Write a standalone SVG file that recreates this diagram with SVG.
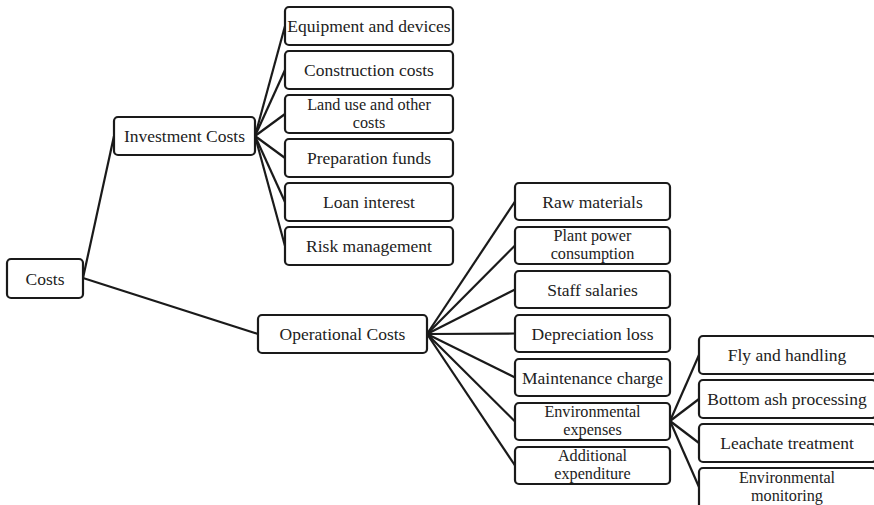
<svg xmlns="http://www.w3.org/2000/svg" width="874" height="505" viewBox="0 0 874 505">
<style>
.box{fill:#fff;stroke:#1a1a1a;stroke-width:2.2}
.lbl{font-family:'Liberation Serif','DejaVu Serif',serif;font-size:17.5px;fill:#222;text-anchor:middle}
.two{font-size:16.2px}
.ln{stroke:#1a1a1a;stroke-width:2.2;fill:none}
</style>
<rect width="874" height="505" fill="#fff"/>
<g id="connectors" class="ln">
<line x1="83" y1="278" x2="114" y2="136"/>
<line x1="83" y1="278" x2="258" y2="334"/>
<line x1="255" y1="136" x2="285" y2="26"/>
<line x1="255" y1="136" x2="285" y2="70"/>
<line x1="255" y1="136" x2="285" y2="114"/>
<line x1="255" y1="136" x2="285" y2="158"/>
<line x1="255" y1="136" x2="285" y2="202"/>
<line x1="255" y1="136" x2="285" y2="246"/>
<line x1="427" y1="334" x2="515" y2="201.5"/>
<line x1="427" y1="334" x2="515" y2="245.5"/>
<line x1="427" y1="334" x2="515" y2="289.5"/>
<line x1="427" y1="334" x2="515" y2="333.5"/>
<line x1="427" y1="334" x2="515" y2="377.5"/>
<line x1="427" y1="334" x2="515" y2="421.5"/>
<line x1="427" y1="334" x2="515" y2="465.5"/>
<line x1="670" y1="421" x2="699" y2="355"/>
<line x1="670" y1="421" x2="699" y2="399"/>
<line x1="670" y1="421" x2="699" y2="443"/>
<line x1="670" y1="421" x2="699" y2="487"/>
</g>
<g id="costs"><rect class="box" x="7" y="259" width="76" height="39" rx="4"/><text class="lbl" x="45" y="284.5">Costs</text></g>
<g id="investment"><rect class="box" x="114" y="117" width="141" height="38" rx="4"/><text class="lbl" x="184.5" y="142">Investment Costs</text></g>
<g id="equipment"><rect class="box" x="285" y="7" width="168" height="38" rx="4"/><text class="lbl" x="369" y="32">Equipment and devices</text></g>
<g id="construction"><rect class="box" x="285" y="51" width="168" height="38" rx="4"/><text class="lbl" x="369" y="76">Construction costs</text></g>
<g id="landuse"><rect class="box" x="285" y="95" width="168" height="38" rx="4"/><text class="lbl two" x="369" y="110"><tspan x="369" y="110">Land use and other</tspan><tspan x="369" y="128">costs</tspan></text></g>
<g id="preparation"><rect class="box" x="285" y="139" width="168" height="38" rx="4"/><text class="lbl" x="369" y="164">Preparation funds</text></g>
<g id="loan"><rect class="box" x="285" y="183" width="168" height="38" rx="4"/><text class="lbl" x="369" y="208">Loan interest</text></g>
<g id="risk"><rect class="box" x="285" y="227" width="168" height="38" rx="4"/><text class="lbl" x="369" y="252">Risk management</text></g>
<g id="operational"><rect class="box" x="258" y="315" width="169" height="38" rx="4"/><text class="lbl" x="342.5" y="340">Operational Costs</text></g>
<g id="raw"><rect class="box" x="515" y="183" width="155" height="37" rx="4"/><text class="lbl" x="592.5" y="207.5">Raw materials</text></g>
<g id="power"><rect class="box" x="515" y="227" width="155" height="37" rx="4"/><text class="lbl two" x="592.5" y="241"><tspan x="592.5" y="241">Plant power</tspan><tspan x="592.5" y="259">consumption</tspan></text></g>
<g id="staff"><rect class="box" x="515" y="271" width="155" height="37" rx="4"/><text class="lbl" x="592.5" y="295.5">Staff salaries</text></g>
<g id="depreciation"><rect class="box" x="515" y="315" width="155" height="37" rx="4"/><text class="lbl" x="592.5" y="339.5">Depreciation loss</text></g>
<g id="maintenance"><rect class="box" x="515" y="359" width="155" height="37" rx="4"/><text class="lbl" x="592.5" y="383.5">Maintenance charge</text></g>
<g id="environmental"><rect class="box" x="515" y="403" width="155" height="37" rx="4"/><text class="lbl two" x="592.5" y="417"><tspan x="592.5" y="417">Environmental</tspan><tspan x="592.5" y="435">expenses</tspan></text></g>
<g id="additional"><rect class="box" x="515" y="447" width="155" height="37" rx="4"/><text class="lbl two" x="592.5" y="461"><tspan x="592.5" y="461">Additional</tspan><tspan x="592.5" y="479">expenditure</tspan></text></g>
<g id="fly"><rect class="box" x="699" y="336" width="177" height="38" rx="4"/><text class="lbl" x="787" y="361">Fly and handling</text></g>
<g id="bottomash"><rect class="box" x="699" y="380" width="177" height="38" rx="4"/><text class="lbl" x="787" y="405">Bottom ash processing</text></g>
<g id="leachate"><rect class="box" x="699" y="424" width="177" height="38" rx="4"/><text class="lbl" x="787" y="449">Leachate treatment</text></g>
<g id="monitoring"><rect class="box" x="699" y="468" width="177" height="42" rx="4"/><text class="lbl two" x="787" y="482.5"><tspan x="787" y="482.5">Environmental</tspan><tspan x="787" y="500.5">monitoring</tspan></text></g>
</svg>
